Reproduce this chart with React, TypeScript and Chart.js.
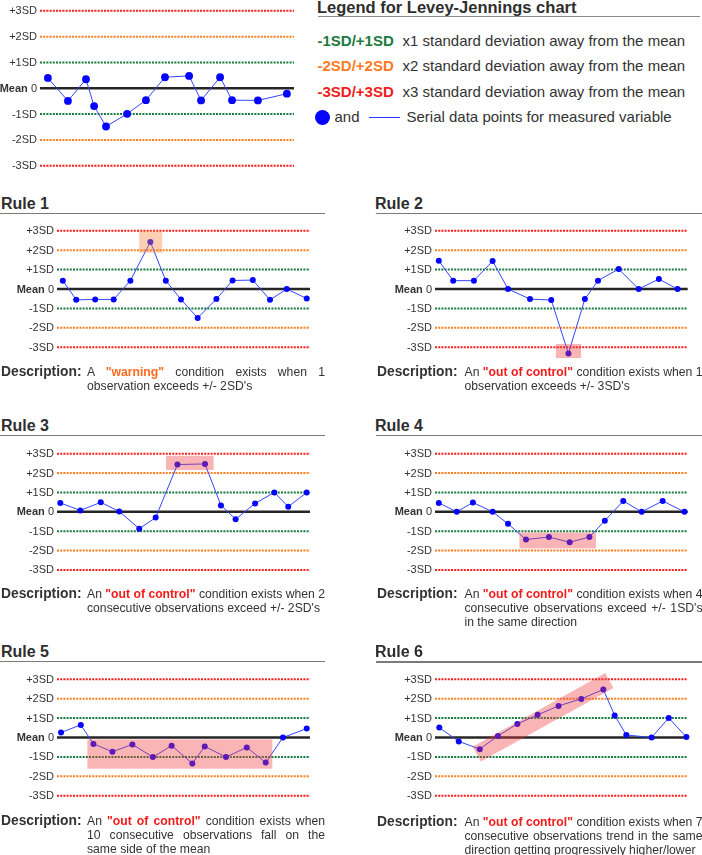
import React, { useEffect, useRef } from "react";
import { Chart, registerables } from "chart.js";
Chart.register(...registerables);

const FONT = '"Liberation Sans", Arial, Helvetica, sans-serif';

// ---- Levels / tick labels ----
const SD_LEVELS = [3, 2, 1, 0, -1, -2, -3];
const SD_LABELS = ["+3SD", "+2SD", "+1SD", "Mean 0", "-1SD", "-2SD", "-3SD"];

// ---- Example chart (legend) ----
const exampleX = [3.1, 11.0, 18.1, 21.3, 26.0, 34.3, 41.7, 49.2, 58.7, 63.4, 70.9, 75.6, 85.8, 97.2];
const exampleY = [0.4, -0.49, 0.35, -0.69, -1.48, -0.99, -0.46, 0.43, 0.48, -0.47, 0.43, -0.46, -0.47, -0.21];

// ---- Rule 1 ----
const rule1X = [2.3, 7.6, 15.1, 22.4, 29.0, 36.9, 43.0, 49.0, 55.6, 63.0, 69.4, 77.4, 84.2, 90.8, 98.7];
const rule1Y = [0.43, -0.56, -0.54, -0.54, 0.43, 2.43, 0.43, -0.54, -1.49, -0.52, 0.44, 0.46, -0.56, 0, -0.49];
const rule1Box = [32.5, 41.6, 1.87, 3.0];

// ---- Rule 2 ----
const rule2X = [1.5, 7.2, 15.4, 22.8, 28.9, 37.6, 46.0, 52.8, 59.3, 64.5, 72.7, 80.6, 88.6, 96.0];
const rule2Y = [1.46, 0.43, 0.43, 1.44, 0, -0.52, -0.57, -3.33, -0.52, 0.43, 1.03, 0, 0.51, 0];
const rule2Box = [47.8, 57.8, -3.56, -2.84];

// ---- Rule 3 ----
const rule3X = [1.3, 9.2, 17.3, 24.6, 32.5, 39.0, 47.6, 58.5, 64.8, 70.6, 78.3, 85.9, 91.4, 98.7];
const rule3Y = [0.46, 0.07, 0.49, 0.02, -0.87, -0.3, 2.44, 2.47, 0.33, -0.38, 0.43, 1.0, 0.26, 1.0];
const rule3Box = [43.1, 61.9, 2.16, 2.89];

// ---- Rule 4 ----
const rule4X = [1.5, 8.6, 15.0, 22.8, 28.9, 36.0, 45.1, 53.3, 61.1, 67.2, 74.5, 81.8, 90.1, 98.7];
const rule4Y = [0.46, 0, 0.48, 0, -0.62, -1.43, -1.3, -1.57, -1.3, -0.46, 0.56, 0, 0.56, 0];
const rule4Box = [33.4, 63.7, -1.89, -1.07];

// ---- Rule 5 ----
const rule5X = [1.6, 9.4, 14.4, 21.9, 29.8, 37.9, 45.3, 53.5, 58.4, 66.8, 75.0, 82.5, 89.3, 98.7];
const rule5Y = [0.26, 0.65, -0.33, -0.73, -0.36, -1.01, -0.42, -1.34, -0.46, -1.01, -0.51, -1.29, 0, 0.46];
const rule5Box = [12.0, 85.1, -1.61, -0.1];

// ---- Rule 6 ----
const rule6X = [1.7, 9.4, 17.7, 24.9, 32.6, 40.6, 48.9, 57.9, 66.6, 71.1, 75.7, 85.7, 92.5, 99.5];
const rule6Y = [0.51, -0.2, -0.6, 0.08, 0.7, 1.17, 1.63, 1.99, 2.48, 1.14, 0.13, 0, 1.01, 0.02];
const rule6Band = [16.5, -0.86, 69.0, 2.94];

// ---- Texts ----
const legendTitle = "Legend for Levey-Jennings chart";
const legendKeys = ["-1SD/+1SD", "-2SD/+2SD", "-3SD/+3SD"];
const legendTexts = [
  "x1 standard deviation away from the mean",
  "x2 standard deviation away from the mean",
  "x3 standard deviation away from the mean",
];
const legendSeriesText = "Serial data points for measured variable";

const rule1Desc = ['A *"warning"* condition exists when 1', "observation exceeds +/- 2SD's"];
const rule2Desc = ['An *"out of control"* condition exists when 1', "observation exceeds +/- 3SD's"];
const rule3Desc = ['An *"out of control"* condition exists when 2', "consecutive observations exceed +/- 2SD's"];
const rule4Desc = [
  'An *"out of control"* condition exists when 4',
  "consecutive observations exceed +/- 1SD's",
  "in the same direction",
];
const rule5Desc = [
  'An *"out of control"* condition exists when',
  "10 consecutive observations fall on the",
  "same side of the mean",
];
const rule6Desc = [
  'An *"out of control"* condition exists when 7',
  "consecutive observations trend in the same",
  "direction getting progressively higher/lower",
];

// ---- Styles ----
const LEVEL_COLORS = ["#ff1c1c", "#ff7d1f", "#1b7a3e", "#262626", "#1b7a3e", "#ff7d1f", "#ff1c1c"];
const TEXT = "#333333";
const ORANGE_HL = "rgba(245,135,60,0.40)";
const RED_HL = "rgba(240,60,60,0.38)";

type Geo = {
  colLeft: number;
  width: number;
  lineLeft: number;
  lineRight: number;
  meanY: number;
  sdPx: number;
  radius: number;
  labelSize: number;
};

type Props = {
  geo: Geo;
  xs: number[];
  ys: number[];
  box?: number[];
  boxColor?: string;
  band?: number[];
};

function LJChart({ geo, xs, ys, box, boxColor, band }: Props) {
  const ref = useRef<HTMLCanvasElement>(null);
  const top = Math.floor(geo.meanY - 3.9 * geo.sdPx);
  const height = Math.ceil(geo.meanY + 3.9 * geo.sdPx) - top;

  useEffect(() => {
    const yMax = (geo.meanY - top) / geo.sdPx;
    const yMin = -(top + height - geo.meanY) / geo.sdPx;
    const refSets = SD_LEVELS.map((v, i) => ({
      data: [
        { x: 0, y: v },
        { x: 100, y: v },
      ],
      borderColor: LEVEL_COLORS[i],
      borderWidth: v === 0 ? 2.5 : 2,
      borderDash: v === 0 ? [] : [2, 1.2],
      pointRadius: 0,
      clip: false as any,
    }));
    const series = {
      data: xs.map((x, i) => ({ x, y: ys[i] })),
      borderColor: "#3246ff",
      borderWidth: 1,
      pointRadius: geo.radius,
      pointBackgroundColor: "#0505ff",
      pointBorderWidth: 0,
      tension: 0,
      clip: false as any,
    };
    const plugin = {
      id: "ljDecor",
      afterDatasetsDraw(chart: any) {
        const { ctx, chartArea, scales } = chart;
        const xS = scales.x;
        const yS = scales.y;
        ctx.save();
        if (box) {
          const px0 = xS.getPixelForValue(box[0]);
          const px1 = xS.getPixelForValue(box[1]);
          const pyTop = yS.getPixelForValue(box[3]);
          const pyBot = yS.getPixelForValue(box[2]);
          ctx.fillStyle = boxColor || RED_HL;
          ctx.fillRect(px0, pyTop, px1 - px0, pyBot - pyTop);
        }
        if (band) {
          ctx.strokeStyle = RED_HL;
          ctx.lineWidth = 17;
          ctx.lineCap = "butt";
          ctx.beginPath();
          ctx.moveTo(xS.getPixelForValue(band[0]), yS.getPixelForValue(band[1]));
          ctx.lineTo(xS.getPixelForValue(band[2]), yS.getPixelForValue(band[3]));
          ctx.stroke();
        }
        // SD labels
        ctx.fillStyle = TEXT;
        ctx.textBaseline = "middle";
        ctx.textAlign = "right";
        const xr = chartArea.left - 3;
        SD_LEVELS.forEach((v, i) => {
          const y = yS.getPixelForValue(v) + 0.5;
          const label = SD_LABELS[i];
          const sp = label.indexOf(" ");
          if (sp > 0) {
            const bold = label.slice(0, sp);
            const rest = label.slice(sp);
            ctx.font = `${geo.labelSize}px ${FONT}`;
            ctx.fillText(rest, xr, y);
            const w = ctx.measureText(rest).width;
            ctx.font = `bold ${geo.labelSize}px ${FONT}`;
            ctx.fillText(bold, xr - w, y);
          } else {
            ctx.font = `${geo.labelSize}px ${FONT}`;
            ctx.fillText(label, xr, y);
          }
        });
        ctx.restore();
      },
    };
    const chart = new Chart(ref.current as HTMLCanvasElement, {
      type: "line",
      data: { datasets: [series, ...refSets] as any },
      options: {
        responsive: false,
        animation: false,
        events: [],
        layout: {
          padding: {
            left: geo.lineLeft - geo.colLeft,
            right: geo.colLeft + geo.width - geo.lineRight,
            top: 0,
            bottom: 0,
          },
        },
        plugins: { legend: { display: false }, tooltip: { enabled: false } },
        scales: {
          x: { type: "linear", min: 0, max: 100, display: false },
          y: { type: "linear", min: yMin, max: yMax, display: false },
        },
      } as any,
      plugins: [plugin],
    });
    return () => chart.destroy();
  }, []);

  return (
    <canvas
      ref={ref}
      width={geo.width}
      height={height}
      style={{ position: "absolute", left: geo.colLeft, top, width: geo.width, height }}
    />
  );
}

function Txt(props: {
  x: number;
  cy: number;
  size: number;
  bold?: boolean;
  color?: string;
  children: React.ReactNode;
}) {
  const lh = Math.round(props.size * 1.3);
  return (
    <div
      style={{
        position: "absolute",
        left: props.x,
        top: props.cy - lh / 2,
        lineHeight: `${lh}px`,
        fontSize: props.size,
        fontWeight: props.bold ? "bold" : "normal",
        color: props.color || TEXT,
        whiteSpace: "nowrap",
      }}
    >
      {props.children}
    </div>
  );
}

function Desc(props: { x: number; textX: number; width: number; cy: number; lines: string[]; emColor: string }) {
  const lh = 14.2;
  const size = 12.2;
  return (
    <>
      <Txt x={props.x} cy={props.cy} size={13.8} bold>
        Description:
      </Txt>
      {props.lines.map((line, li) => {
        const parts = line.split("*");
        const last = li === props.lines.length - 1;
        return (
          <div
            key={li}
            style={{
              position: "absolute",
              left: props.textX,
              top: props.cy + li * lh - 8,
              width: props.width,
              height: 16,
              lineHeight: "16px",
              fontSize: size,
              color: TEXT,
              whiteSpace: "nowrap",
              textAlign: "justify",
              textAlignLast: last ? "left" : "justify",
            } as any}
          >
            {parts.map((p, pi) =>
              pi % 2 === 1 ? (
                <span key={pi} style={{ color: props.emColor, fontWeight: "bold" }}>
                  {p}
                </span>
              ) : (
                <span key={pi}>{p}</span>
              )
            )}
          </div>
        );
      })}
    </>
  );
}

function Title(props: { x: number; cy: number; lineX0: number; lineX1: number; lineY: number; text: string }) {
  return (
    <>
      <Txt x={props.x} cy={props.cy} size={16} bold color="#2e2e2e">
        {props.text}
      </Txt>
      <div
        style={{
          position: "absolute",
          left: props.lineX0,
          top: props.lineY - 0.75,
          width: props.lineX1 - props.lineX0,
          height: 1.5,
          background: "#7a7a7a",
        }}
      />
    </>
  );
}

const geoExample: Geo = { colLeft: 0, width: 300, lineLeft: 40, lineRight: 294, meanY: 88.3, sdPx: 26.83, radius: 3.9, labelSize: 11 };
const leftGeo = (meanY: number): Geo => ({ colLeft: 0, width: 345, lineLeft: 57, lineRight: 310, meanY, sdPx: 20.4, radius: 3, labelSize: 11 });
const rightGeo = (meanY: number): Geo => ({ colLeft: 350, width: 352, lineLeft: 435, lineRight: 687.7, meanY, sdPx: 20.4, radius: 3, labelSize: 11 });

const ROW_MEANS = [289, 511.8, 737.5];
const LEGEND_KEY_COLORS = ["#1b7a3e", "#ff7a1f", "#f01c1c"];

export default function App() {
  return (
    <div
      style={{
        position: "absolute",
        left: 0,
        top: 0,
        width: 702,
        height: 855,
        overflow: "hidden",
        background: "#ffffff",
        fontFamily: FONT,
      }}
    >
      {/* Example chart */}
      <LJChart geo={geoExample} xs={exampleX} ys={exampleY} />

      {/* Legend */}
      <Txt x={317} cy={7.5} size={16.5} bold color="#2e2e2e">
        {legendTitle}
      </Txt>
      <div style={{ position: "absolute", left: 318, top: 15.5, width: 382, height: 1.5, background: "#8a8a8a" }} />
      {legendKeys.map((k, i) => (
        <React.Fragment key={k}>
          <Txt x={317.5} cy={40.7 + i * 25.7} size={15} bold color={LEGEND_KEY_COLORS[i]}>
            {k}
          </Txt>
          <Txt x={402.5} cy={40.7 + i * 25.7} size={15}>
            {legendTexts[i]}
          </Txt>
        </React.Fragment>
      ))}
      <div
        style={{
          position: "absolute",
          left: 315,
          top: 110,
          width: 15,
          height: 15,
          borderRadius: "50%",
          background: "#0505ff",
        }}
      />
      <Txt x={334.5} cy={117.3} size={15}>
        and
      </Txt>
      <div style={{ position: "absolute", left: 369, top: 116.5, width: 31, height: 1.5, background: "#2b3cff" }} />
      <Txt x={406.5} cy={117.3} size={15}>
        {legendSeriesText}
      </Txt>

      {/* Rule 1 */}
      <Title x={1} cy={203.3} lineX0={0} lineX1={325} lineY={213.3} text="Rule 1" />
      <LJChart geo={leftGeo(ROW_MEANS[0])} xs={rule1X} ys={rule1Y} box={rule1Box} boxColor={ORANGE_HL} />
      <Desc x={1} textX={87} width={238} cy={371.7} lines={rule1Desc} emColor="#ff6a1f" />

      {/* Rule 2 */}
      <Title x={375} cy={203.3} lineX0={376} lineX1={702} lineY={213.3} text="Rule 2" />
      <LJChart geo={rightGeo(ROW_MEANS[0])} xs={rule2X} ys={rule2Y} box={rule2Box} />
      <Desc x={377} textX={464.5} width={238} cy={371.5} lines={rule2Desc} emColor="#f51a1a" />

      {/* Rule 3 */}
      <Title x={1} cy={425.7} lineX0={0} lineX1={325} lineY={435.7} text="Rule 3" />
      <LJChart geo={leftGeo(ROW_MEANS[1])} xs={rule3X} ys={rule3Y} box={rule3Box} />
      <Desc x={1} textX={87} width={238} cy={594} lines={rule3Desc} emColor="#f51a1a" />

      {/* Rule 4 */}
      <Title x={375} cy={425.7} lineX0={376} lineX1={702} lineY={435.7} text="Rule 4" />
      <LJChart geo={rightGeo(ROW_MEANS[1])} xs={rule4X} ys={rule4Y} box={rule4Box} />
      <Desc x={377} textX={464.5} width={238} cy={594} lines={rule4Desc} emColor="#f51a1a" />

      {/* Rule 5 */}
      <Title x={1} cy={651.7} lineX0={0} lineX1={325} lineY={661.7} text="Rule 5" />
      <LJChart geo={leftGeo(ROW_MEANS[2])} xs={rule5X} ys={rule5Y} box={rule5Box} />
      <Desc x={1} textX={87} width={238} cy={821} lines={rule5Desc} emColor="#f51a1a" />

      {/* Rule 6 */}
      <Title x={375} cy={651.7} lineX0={376} lineX1={702} lineY={662} text="Rule 6" />
      <LJChart geo={rightGeo(ROW_MEANS[2])} xs={rule6X} ys={rule6Y} band={rule6Band} />
      <Desc x={377} textX={464.5} width={238} cy={821.5} lines={rule6Desc} emColor="#f51a1a" />
    </div>
  );
}
